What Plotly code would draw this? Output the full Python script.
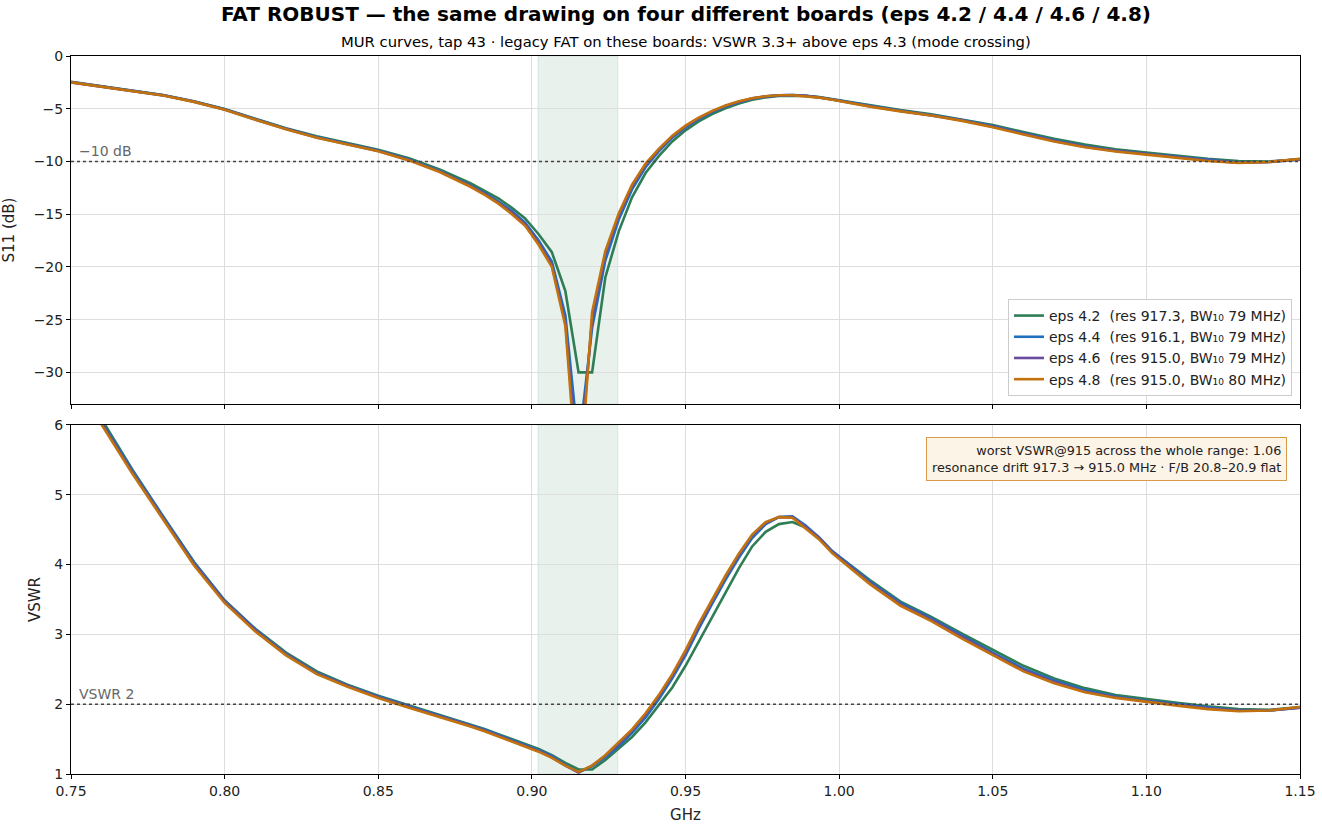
import plotly.graph_objs as go
from plotly.subplots import make_subplots

# frequency grid (GHz) - coarse on the flanks, simulator steps around the dip
freq = [0.750, 0.760, 0.770, 0.780, 0.790, 0.800, 0.810, 0.820, 0.830, 0.840,
        0.850, 0.860, 0.870, 0.880,
        0.8848, 0.8891, 0.8935, 0.8978, 0.9022, 0.9065, 0.9109, 0.9152, 0.9196,
        0.9239, 0.9283, 0.9326, 0.9370, 0.9413, 0.9457, 0.9500, 0.9543, 0.9587,
        0.9630, 0.9674, 0.9717, 0.9761, 0.9804, 0.9848, 0.9891, 0.9935, 0.9978,
        1.010, 1.020, 1.030, 1.040, 1.050, 1.060, 1.070, 1.080, 1.090, 1.100,
        1.110, 1.120, 1.130, 1.140, 1.150]

s11_eps42 = [-2.45, -2.85, -3.25, -3.7, -4.3, -5.02, -5.95, -6.85, -7.62, -8.27,
             -8.9, -9.7, -10.75, -12.05,
             -12.8, -13.5, -14.4, -15.4, -16.9, -18.6, -22.3, -30.0, -30.0,
             -21.0, -16.6, -13.4, -11.1, -9.5, -8.1, -7.05, -6.2, -5.5,
             -4.95, -4.5, -4.15, -3.92, -3.8, -3.76, -3.78, -3.9, -4.1,
             -4.7, -5.13, -5.52, -6.0, -6.55, -7.2, -7.85, -8.4, -8.85, -9.15,
             -9.45, -9.75, -9.97, -10.0, -9.82]
s11_eps44 = [-2.48, -2.88, -3.28, -3.72, -4.32, -5.06, -6.0, -6.9, -7.69, -8.3,
             -8.97, -9.82, -10.9, -12.27,
             -13.0, -13.8, -14.7, -15.8, -17.5, -19.5, -24.6, -37.0, -25.8,
             -19.4, -15.5, -12.65, -10.55, -9.05, -7.75, -6.78, -5.98, -5.32,
             -4.8, -4.38, -4.05, -3.85, -3.73, -3.71, -3.77, -3.92, -4.12,
             -4.75, -5.2, -5.6, -6.07, -6.65, -7.35, -8.0, -8.55, -8.97, -9.27,
             -9.57, -9.87, -10.1, -10.05, -9.8]
s11_eps46 = [-2.5, -2.9, -3.3, -3.73, -4.33, -5.08, -6.02, -6.92, -7.72, -8.33,
             -9.0, -9.86, -10.95, -12.33,
             -13.1, -13.9, -14.85, -15.95, -17.7, -19.8, -25.3, -40.0, -24.9,
             -18.8, -15.1, -12.35, -10.35, -8.9, -7.65, -6.68, -5.9, -5.25,
             -4.74, -4.33, -4.02, -3.83, -3.72, -3.71, -3.78, -3.93, -4.13,
             -4.77, -5.22, -5.62, -6.1, -6.7, -7.4, -8.05, -8.6, -9.0, -9.3,
             -9.6, -9.9, -10.12, -10.05, -9.78]
s11_eps48 = [-2.5, -2.9, -3.3, -3.75, -4.35, -5.1, -6.05, -6.95, -7.75, -8.36,
             -9.03, -9.9, -11.0, -12.4,
             -13.2, -14.0, -15.0, -16.1, -17.9, -20.0, -25.6, -42.0, -24.3,
             -18.5, -14.9, -12.2, -10.2, -8.8, -7.55, -6.6, -5.85, -5.2,
             -4.7, -4.3, -4.0, -3.82, -3.72, -3.72, -3.8, -3.95, -4.15,
             -4.8, -5.25, -5.65, -6.15, -6.75, -7.45, -8.1, -8.65, -9.05, -9.35,
             -9.65, -9.95, -10.15, -10.05, -9.75]

vswr_eps42 = [7.1, 6.08, 5.36, 4.69, 4.04, 3.49, 3.08, 2.74, 2.47, 2.28,
              2.12, 1.98, 1.85, 1.71,
              1.64, 1.57, 1.50, 1.43, 1.36, 1.27, 1.16, 1.065, 1.065,
              1.20, 1.36, 1.53, 1.74, 1.98, 2.24, 2.55, 2.90, 3.26,
              3.60, 3.95, 4.26, 4.47, 4.58, 4.61, 4.53, 4.38, 4.19,
              3.78, 3.47, 3.25, 3.01, 2.78, 2.55, 2.37, 2.23, 2.13, 2.07,
              2.02, 1.97, 1.93, 1.92, 1.96]
vswr_eps44 = [7.05, 6.04, 5.34, 4.68, 4.03, 3.48, 3.07, 2.72, 2.45, 2.27,
              2.11, 1.97, 1.84, 1.70,
              1.63, 1.56, 1.49, 1.42, 1.34, 1.26, 1.13, 1.03, 1.11,
              1.24, 1.40, 1.59, 1.81, 2.07, 2.37, 2.70, 3.08, 3.44,
              3.78, 4.10, 4.38, 4.58, 4.68, 4.69, 4.56, 4.39, 4.19,
              3.76, 3.45, 3.23, 2.98, 2.74, 2.51, 2.34, 2.20, 2.11, 2.05,
              2.00, 1.95, 1.91, 1.91, 1.95]
vswr_eps46 = [7.0, 6.02, 5.32, 4.66, 4.01, 3.47, 3.06, 2.71, 2.44, 2.26,
              2.10, 1.96, 1.83, 1.69,
              1.62, 1.55, 1.48, 1.41, 1.33, 1.24, 1.12, 1.02, 1.12,
              1.26, 1.43, 1.62, 1.85, 2.11, 2.41, 2.74, 3.12, 3.48,
              3.82, 4.14, 4.42, 4.60, 4.68, 4.68, 4.54, 4.38, 4.18,
              3.74, 3.43, 3.21, 2.96, 2.72, 2.49, 2.32, 2.18, 2.10, 2.04,
              1.99, 1.94, 1.91, 1.91, 1.95]
vswr_eps48 = [7.0, 6.0, 5.30, 4.64, 3.99, 3.45, 3.04, 2.70, 2.43, 2.25,
              2.09, 1.95, 1.82, 1.68,
              1.61, 1.54, 1.47, 1.40, 1.32, 1.23, 1.12, 1.03, 1.12,
              1.27, 1.45, 1.64, 1.87, 2.13, 2.43, 2.77, 3.15, 3.51,
              3.84, 4.16, 4.43, 4.61, 4.68, 4.67, 4.52, 4.36, 4.16,
              3.72, 3.41, 3.19, 2.94, 2.70, 2.47, 2.30, 2.17, 2.09, 2.03,
              1.98, 1.93, 1.90, 1.91, 1.96]

names = ["eps 4.2  (res 917.3, BW₁₀ 79 MHz)",
         "eps 4.4  (res 916.1, BW₁₀ 79 MHz)",
         "eps 4.6  (res 915.0, BW₁₀ 79 MHz)",
         "eps 4.8  (res 915.0, BW₁₀ 80 MHz)"]
colors = ["#2e7d55", "#1f6fbf", "#6a4c9c", "#c2720c"]
s11_all = [s11_eps42, s11_eps44, s11_eps46, s11_eps48]
vswr_all = [vswr_eps42, vswr_eps44, vswr_eps46, vswr_eps48]

band = [0.902, 0.928]  # ISM band

fig = make_subplots(rows=2, cols=1, shared_xaxes=True)

for i in range(4):
    fig.add_trace(go.Scatter(x=freq, y=s11_all[i], mode='lines', name=names[i],
                             line=dict(color=colors[i], width=2.6)), row=1, col=1)
    fig.add_trace(go.Scatter(x=freq, y=vswr_all[i], mode='lines', showlegend=False,
                             line=dict(color=colors[i], width=2.6)), row=2, col=1)

# shaded band on both panels
for yref in ['y domain', 'y2 domain']:
    fig.add_shape(type='rect', xref='x', yref=yref, x0=band[0], x1=band[1], y0=0, y1=1,
                  fillcolor='rgba(46,125,85,0.11)',
                  line=dict(width=1, color='rgba(46,125,85,0.12)'), layer='below')

# reference lines
fig.add_shape(type='line', xref='x domain', yref='y', x0=0, x1=1, y0=-10, y1=-10,
              line=dict(color='#444444', width=1.5, dash='dot'))
fig.add_shape(type='line', xref='x2 domain', yref='y2', x0=0, x1=1, y0=2, y1=2,
              line=dict(color='#444444', width=1.5, dash='dot'))

axis_style = dict(showline=True, mirror=True, linecolor='black', linewidth=1,
                  ticks='outside', ticklen=4, tickcolor='black', automargin=False,
                  showgrid=True, gridcolor='#dedede', gridwidth=1, zeroline=False,
                  tickfont=dict(size=14, color='#222'))

fig.update_xaxes(axis_style)
fig.update_yaxes(axis_style)
fig.update_xaxes(range=[0.75, 1.15], dtick=0.05, tickformat='.2f')
fig.update_xaxes(showticklabels=False, domain=[0, 1], row=1, col=1)
fig.update_xaxes(domain=[0, 1], title=dict(text='GHz', font=dict(size=15), standoff=11), row=2, col=1)
fig.update_yaxes(range=[-33, 0], dtick=5, domain=[0.5153, 1.0],
                 title=dict(text='S11 (dB)', font=dict(size=15), standoff=15), row=1, col=1)
fig.update_yaxes(range=[1, 6], dtick=1, domain=[0.0, 0.4861],
                 title=dict(text='VSWR', font=dict(size=15), standoff=10), row=2, col=1)

fig.add_annotation(x=0.752, y=-10, xref='x', yref='y', text='−10 dB', showarrow=False,
                   xanchor='left', yanchor='bottom', font=dict(size=14, color='#666'))
fig.add_annotation(x=0.752, y=2, xref='x2', yref='y2', text='VSWR 2', showarrow=False,
                   xanchor='left', yanchor='bottom', font=dict(size=14, color='#666'))

fig.add_annotation(x=0.9894, y=0.4694, xref='paper', yref='paper',
                   text='worst VSWR@915 across the whole range: 1.06<br>'
                        'resonance drift 917.3 → 915.0 MHz · F/B 20.8–20.9 flat',
                   showarrow=False, xanchor='right', yanchor='top', align='right',
                   bgcolor='#fdf4e8', bordercolor='#d99a4a', borderwidth=1, borderpad=5,
                   font=dict(size=12.8, color='#222'))

# title + subtitle
fig.add_annotation(x=0.5, y=1.0, xref='paper', yref='paper', yshift=42,
                   text='<b>FAT ROBUST — the same drawing on four different boards (eps 4.2 / 4.4 / 4.6 / 4.8)</b>',
                   showarrow=False, xanchor='center', yanchor='middle',
                   font=dict(size=20, color='black'))
fig.add_annotation(x=0.5, y=1.0, xref='paper', yref='paper', yshift=15,
                   text='MUR curves, tap 43 · legacy FAT on these boards: VSWR 3.3+ above eps 4.3 (mode crossing)',
                   showarrow=False, xanchor='center', yanchor='middle',
                   font=dict(size=14.8, color='black'))

fig.update_layout(width=1322, height=828,
                  margin=dict(l=71, r=22, t=56, b=54),
                  paper_bgcolor='white', plot_bgcolor='white',
                  font=dict(family='DejaVu Sans', color='#222'),
                  legend=dict(x=0.9935, y=0.5265, xanchor='right', yanchor='bottom',
                              bgcolor='rgba(255,255,255,0.9)', bordercolor='#cccccc', borderwidth=1,
                              font=dict(size=14), tracegroupgap=0, itemwidth=30))

# drop the default 8px body margin so the figure sits at the window corner
fig.write_html("out.html", config={'displayModeBar': False},
               post_script="document.body.style.margin='0';")
